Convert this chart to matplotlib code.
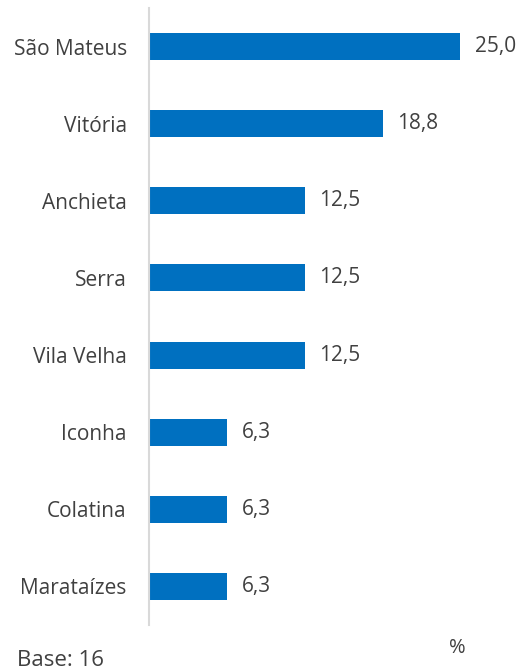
import matplotlib
matplotlib.use("Agg")
import matplotlib.pyplot as plt

categories = ["São Mateus", "Vitória", "Anchieta", "Serra", "Vila Velha", "Iconha", "Colatina", "Marataízes"]
values = [25.0, 18.8, 12.5, 12.5, 12.5, 6.3, 6.3, 6.3]
base_label = "Base: 16"
unit_label = "%"

TEXT = "#404040"
BAR = "#0070C0"
plt.rcParams['font.family'] = ['Open Sans', 'DejaVu Sans']

fig = plt.figure(figsize=(5.21, 6.72), dpi=100)
ax = fig.add_axes([149/521, 1 - 625/672, (500 - 149)/521, (625 - 8)/672])

ypos = list(range(len(categories)))
ax.barh(ypos, values, height=0.35, color=BAR)
ax.set_ylim(len(categories) - 0.5, -0.5)
ax.set_xlim(0, (500 - 149) / 12.44)

for y, v in zip(ypos, values):
    ax.annotate(f"{v:.1f}".replace(".", ","), (v, y), xytext=(10.5, 0), textcoords="offset points",
                ha="left", va="center", fontsize=15, color=TEXT)

ax.set_yticks(ypos)
ax.set_yticklabels(categories, fontsize=15, color=TEXT)
ax.tick_params(axis="y", length=0, pad=16)
ax.set_xticks([])
for s in ["top", "right", "bottom"]:
    ax.spines[s].set_visible(False)
ax.spines["left"].set_color("#D9D9D9")
ax.spines["left"].set_linewidth(1.5)

fig.text(17/521, 1 - 660/672, base_label, fontsize=16, color=TEXT, ha="left", va="center")
fig.text(457/521, 1 - 648/672, unit_label, fontsize=14.5, color=TEXT, ha="center", va="center")

fig.savefig("out.png", dpi=100)
